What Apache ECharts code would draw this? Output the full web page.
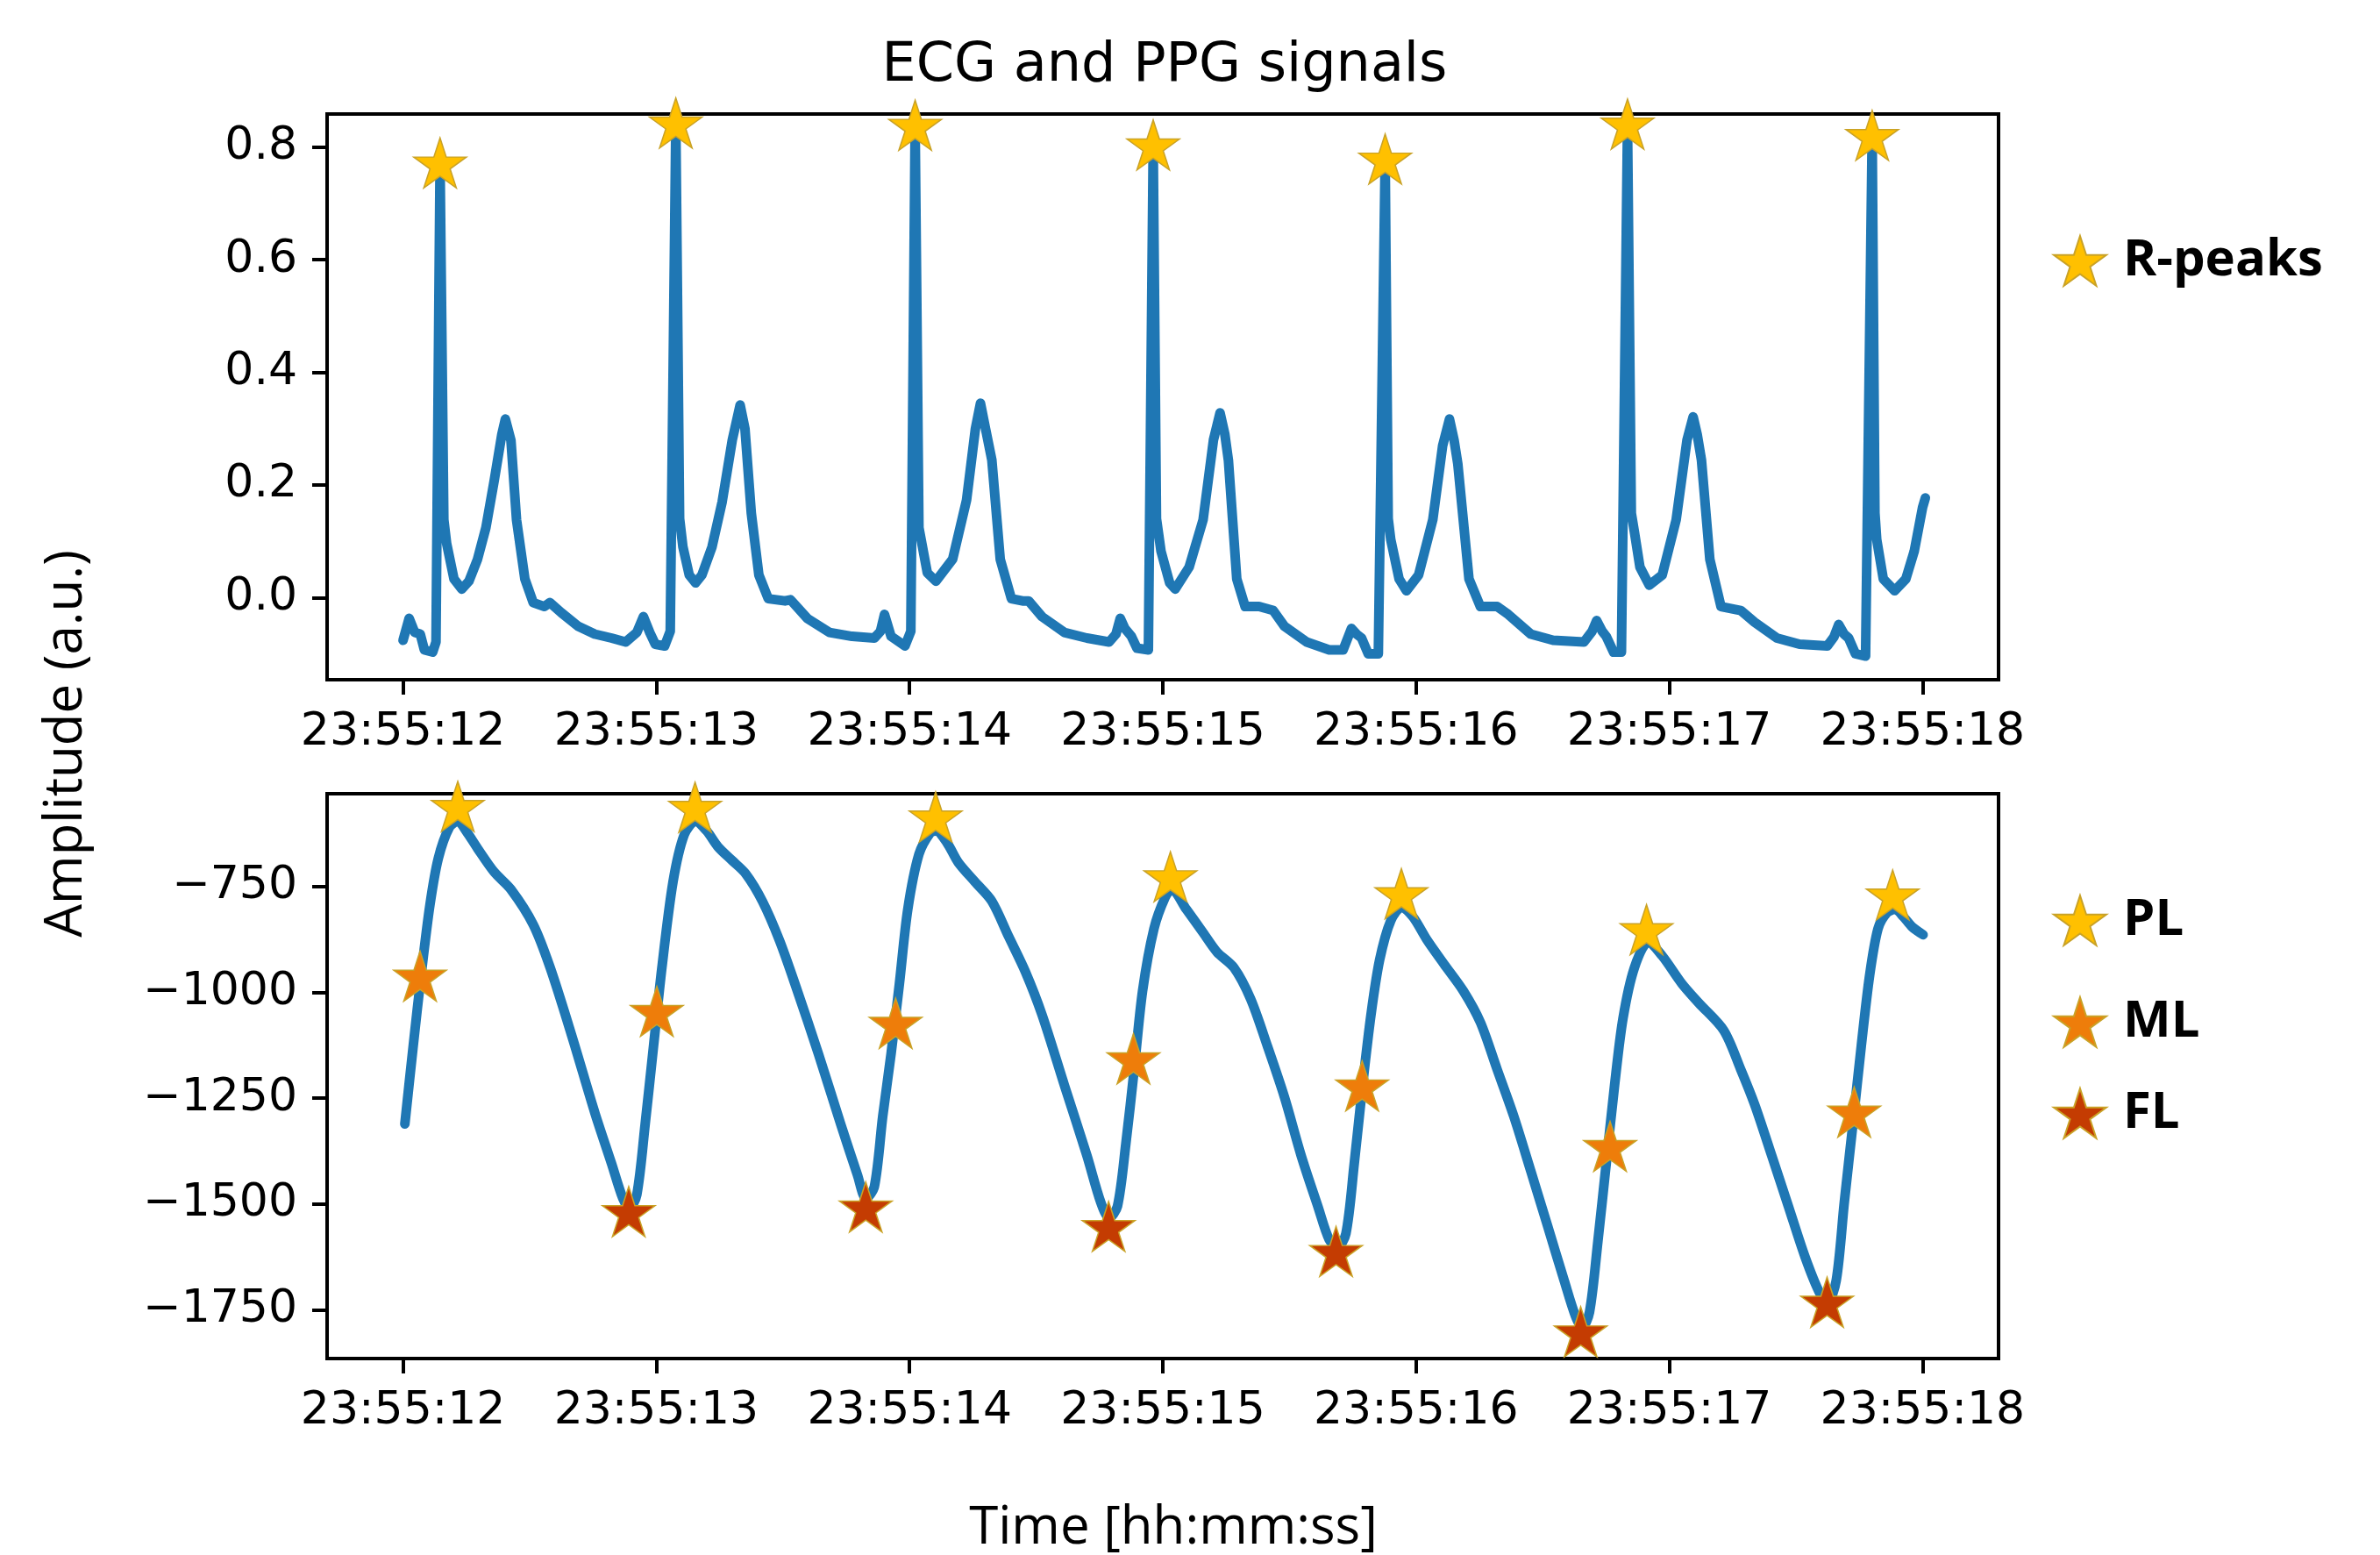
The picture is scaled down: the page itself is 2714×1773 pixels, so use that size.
<!DOCTYPE html>
<html>
<head>
<meta charset="utf-8">
<script src="https://cdn.jsdelivr.net/npm/echarts@6/dist/echarts.min.js"></script>
<style>html,body{margin:0;padding:0;background:#fff}#c{width:2714px;height:1773px}</style>
</head>
<body>
<div id="c"></div>
<script>
// ---- tick values / labels ----
const xTickValues = [12, 13, 14, 15, 16, 17, 18];
const xTickLabels = ['23:55:12', '23:55:13', '23:55:14', '23:55:15', '23:55:16', '23:55:17', '23:55:18'];
const ecgYTicks = [0, 0.2, 0.4, 0.6, 0.8];
const ecgYLabels = ['0.0', '0.2', '0.4', '0.6', '0.8'];
const ppgYTicks = [-1750, -1500, -1250, -1000, -750];
const ppgYLabels = ['\u22121750', '\u22121500', '\u22121250', '\u22121000', '\u2212750'];

// ---- ECG signal (seconds after 23:55:00, amplitude) ----
const ecgT = [12.000,12.024,12.046,12.068,12.084,12.117,12.130,12.146,12.161,12.172,12.201,12.232,12.260,12.294,12.327,12.360,12.390,12.404,12.426,12.448,12.481,12.514,12.558,12.580,12.625,12.691,12.757,12.823,12.879,12.923,12.949,12.974,12.996,13.033,13.055,
13.077,13.092,13.105,13.130,13.155,13.180,13.220,13.260,13.300,13.331,13.350,13.375,13.405,13.442,13.508,13.530,13.596,13.684,13.773,13.861,13.885,13.901,13.927,13.982,14.005,
14.022,14.037,14.070,14.104,14.170,14.225,14.260,14.280,14.300,14.325,14.358,14.402,14.446,14.470,14.523,14.611,14.700,14.788,14.815,14.832,14.850,14.876,14.898,14.943,
14.962,14.975,14.993,15.027,15.049,15.104,15.159,15.200,15.226,15.245,15.259,15.292,15.325,15.380,15.436,15.480,15.568,15.657,15.712,15.745,15.765,15.785,15.811,15.851,
15.878,15.890,15.900,15.933,15.962,16.010,16.066,16.105,16.132,16.150,16.165,16.209,16.254,16.320,16.364,16.453,16.541,16.663,16.695,16.713,16.735,16.751,16.780,16.811,
16.835,16.850,16.862,16.884,16.921,16.972,17.027,17.070,17.094,17.110,17.127,17.160,17.204,17.282,17.337,17.425,17.514,17.624,17.650,17.669,17.690,17.708,17.735,17.775,
17.801,17.812,17.819,17.845,17.890,17.934,17.967,18.000,18.011];
const ecgV = [-0.076,-0.037,-0.062,-0.065,-0.093,-0.097,-0.079,0.772,0.138,0.096,0.033,0.015,0.029,0.068,0.124,0.208,0.290,0.317,0.279,0.138,0.033,-0.009,-0.016,-0.009,-0.027,-0.051,-0.065,-0.072,-0.079,-0.062,-0.034,-0.062,-0.083,-0.086,-0.060,
0.843,0.140,0.090,0.040,0.026,0.040,0.090,0.170,0.280,0.342,0.300,0.150,0.040,-0.002,-0.006,-0.004,-0.037,-0.062,-0.069,-0.072,-0.060,-0.030,-0.069,-0.086,-0.060,
0.839,0.124,0.044,0.029,0.068,0.173,0.300,0.345,0.300,0.244,0.068,-0.002,-0.006,-0.006,-0.034,-0.062,-0.072,-0.079,-0.065,-0.037,-0.055,-0.069,-0.090,-0.093,
0.804,0.140,0.082,0.026,0.015,0.054,0.138,0.280,0.328,0.290,0.244,0.033,-0.016,-0.016,-0.023,-0.051,-0.079,-0.093,-0.093,-0.055,-0.065,-0.072,-0.100,-0.100,
0.779,0.140,0.103,0.033,0.012,0.040,0.138,0.270,0.317,0.280,0.237,0.033,-0.016,-0.016,-0.030,-0.065,-0.076,-0.079,-0.060,-0.041,-0.060,-0.069,-0.097,-0.097,
0.841,0.150,0.117,0.054,0.022,0.040,0.138,0.280,0.321,0.290,0.244,0.068,-0.016,-0.023,-0.044,-0.072,-0.083,-0.086,-0.070,-0.048,-0.065,-0.072,-0.100,-0.104,
0.821,0.150,0.103,0.033,0.012,0.033,0.082,0.160,0.177];

// ---- R-peaks ----
const rPeakT = [12.146, 13.077, 14.022, 14.962, 15.878, 16.835, 17.801];
const rPeakV = [0.772, 0.843, 0.839, 0.804, 0.779, 0.841, 0.821];

// ---- PPG signal ----
const ppgT = [12.007,12.040,12.073,12.106,12.139,12.183,12.216,12.249,12.294,12.360,12.426,12.514,12.581,12.669,12.757,12.823,12.868,12.894,12.923,12.956,12.989,13.022,13.066,13.110,13.155,13.199,13.243,13.298,13.353,13.419,13.486,13.552,13.640,13.728,13.794,13.828,13.861,13.894,13.927,13.960,13.993,14.037,14.082,14.104,14.148,14.192,14.258,14.325,14.391,14.457,14.523,14.611,14.700,14.755,14.788,14.821,14.854,14.887,14.920,14.965,15.009,15.035,15.093,15.159,15.214,15.281,15.347,15.413,15.480,15.546,15.612,15.657,15.690,15.723,15.756,15.789,15.822,15.856,15.900,15.944,15.988,16.044,16.110,16.187,16.254,16.320,16.386,16.453,16.519,16.585,16.629,16.656,16.685,16.718,16.751,16.784,16.817,16.862,16.917,16.972,17.049,17.116,17.215,17.282,17.337,17.404,17.470,17.536,17.592,17.625,17.659,17.691,17.725,17.758,17.791,17.824,17.858,17.891,17.925,17.958,18.002];
const ppgV = [-1311,-1127,-951,-794,-684,-610,-596,-619,-660,-716,-757,-840,-942,-1108,-1284,-1404,-1487,-1510,-1478,-1311,-1127,-942,-739,-628,-596,-619,-656,-688,-720,-785,-877,-988,-1145,-1311,-1431,-1487,-1459,-1293,-1145,-979,-804,-674,-623,-619,-647,-693,-739,-785,-868,-951,-1053,-1219,-1385,-1496,-1533,-1505,-1358,-1182,-997,-850,-776,-757,-804,-859,-905,-942,-1016,-1127,-1247,-1385,-1505,-1584,-1602,-1570,-1404,-1219,-1053,-924,-831,-799,-822,-877,-933,-997,-1071,-1182,-1293,-1422,-1551,-1681,-1764,-1792,-1755,-1588,-1404,-1219,-1062,-942,-882,-914,-979,-1025,-1090,-1182,-1265,-1385,-1505,-1625,-1708,-1732,-1681,-1496,-1311,-1127,-960,-850,-813,-804,-822,-845,-864];

// ---- PPG landmarks ----
const plT = [12.216, 13.153, 14.103, 15.030, 15.942, 16.910, 17.882];
const plV = [-561, -563, -586, -727, -767, -852, -770];
const mlT = [12.067, 13.002, 13.945, 14.884, 15.787, 16.766, 17.730];
const mlV = [-962, -1045, -1073, -1157, -1221, -1364, -1283];
const flT = [12.891, 13.827, 14.786, 15.684, 16.650, 17.623];
const flV = [-1518, -1507, -1553, -1612, -1802, -1732];

const zip = (a, b) => a.map((v, i) => [v, b[i]]);
const starPath = 'path://M0,-100 L22.45,-30.9 L95.1,-30.9 L36.3,11.8 L58.8,80.9 L0,38.2 L-58.8,80.9 L-36.3,11.8 L-95.1,-30.9 L-22.45,-30.9 Z';
const nearestLabel = (vals, labels) => (v) => {
  let best = 0;
  vals.forEach((t, i) => { if (Math.abs(t - v) < Math.abs(vals[best] - v)) best = i; });
  return labels[best];
};

const tickFont = { fontFamily: 'DejaVu Sans', fontSize: 52, color: '#000' };
const GOLD = '#FFC000', ORANGE = '#EE7D0A', RUST = '#C43C02', EDGE = '#C9A227';

function xAxis(gridIndex) {
  return {
    type: 'value', gridIndex, min: 11.7, max: 18.3,
    splitLine: { show: false },
    axisLine: { show: false, onZero: false },
    axisTick: { show: true, customValues: xTickValues, length: 17, inside: false, lineStyle: { color: '#000', width: 4 } },
    axisLabel: Object.assign({ customValues: xTickValues, margin: 34, formatter: nearestLabel(xTickValues, xTickLabels) }, tickFont)
  };
}
function yAxis(gridIndex, min, max, ticks, labels) {
  return {
    type: 'value', gridIndex, min, max,
    splitLine: { show: false },
    axisLine: { show: false, onZero: false },
    axisTick: { show: true, customValues: ticks, length: 17, inside: false, lineStyle: { color: '#000', width: 4 } },
    axisLabel: Object.assign({ customValues: ticks, margin: 34, formatter: nearestLabel(ticks, labels) }, tickFont)
  };
}
function starSeries(name, t, v, color, xi) {
  return {
    name, type: 'scatter', xAxisIndex: xi, yAxisIndex: xi, z: 5, clip: false,
    symbol: starPath, symbolSize: [60, 57],
    itemStyle: { color, borderColor: EDGE, borderWidth: 1.5, opacity: 1 },
    data: zip(t, v)
  };
}
function legendFor(name, top) {
  return {
    data: [name], left: 2341, top, orient: 'vertical', padding: 0,
    icon: starPath, itemWidth: 60, itemHeight: 57, selectedMode: false,
    itemStyle: { opacity: 1 },
    textStyle: { fontFamily: 'Open Sans', fontWeight: 'bold', fontSize: 58, color: '#000', padding: [0, 0, 0, 14] }
  };
}

const lineStyle = { color: '#1f77b4', width: 11, join: 'round', cap: 'round' };

const chart = echarts.init(document.getElementById('c'), null, { renderer: 'canvas' });
chart.setOption({
  animation: false,
  backgroundColor: '#fff',
  grid: [
    { left: 373, top: 130, width: 1906, height: 645, show: true, borderColor: '#000', borderWidth: 4, backgroundColor: 'transparent', outerBoundsMode: 'none' },
    { left: 373, top: 905, width: 1906, height: 644, show: true, borderColor: '#000', borderWidth: 4, backgroundColor: 'transparent', outerBoundsMode: 'none' }
  ],
  xAxis: [xAxis(0), xAxis(1)],
  yAxis: [
    yAxis(0, -0.146, 0.859, ecgYTicks, ecgYLabels),
    yAxis(1, -1865, -531, ppgYTicks, ppgYLabels)
  ],
  legend: [
    legendFor('R-peaks', 268),
    legendFor('PL', 1020),
    legendFor('ML', 1136),
    legendFor('FL', 1240)
  ],
  graphic: [
    { type: 'text', x: 1328, y: 76, style: { text: 'ECG and PPG signals', font: '62px "DejaVu Sans"', fill: '#000', align: 'center', verticalAlign: 'middle' } },
    { type: 'text', x: 1338, y: 1743, style: { text: 'Time [hh:mm:ss]', font: '60px "Open Sans"', fill: '#000', align: 'center', verticalAlign: 'middle' } },
    { type: 'text', x: 76, y: 848, rotation: Math.PI / 2, style: { text: 'Amplitude (a.u.)', font: '60px "Open Sans"', fill: '#000', align: 'center', verticalAlign: 'middle' } }
  ],
  series: [
    { name: 'ECG', type: 'line', xAxisIndex: 0, yAxisIndex: 0, symbol: 'none', z: 2, lineStyle, data: zip(ecgT, ecgV) },
    starSeries('R-peaks', rPeakT, rPeakV, GOLD, 0),
    { name: 'PPG', type: 'line', xAxisIndex: 1, yAxisIndex: 1, symbol: 'none', z: 2, smooth: 0.3, lineStyle, data: zip(ppgT, ppgV) },
    starSeries('PL', plT, plV, GOLD, 1),
    starSeries('ML', mlT, mlV, ORANGE, 1),
    starSeries('FL', flT, flV, RUST, 1)
  ]
});
</script>
</body>
</html>
